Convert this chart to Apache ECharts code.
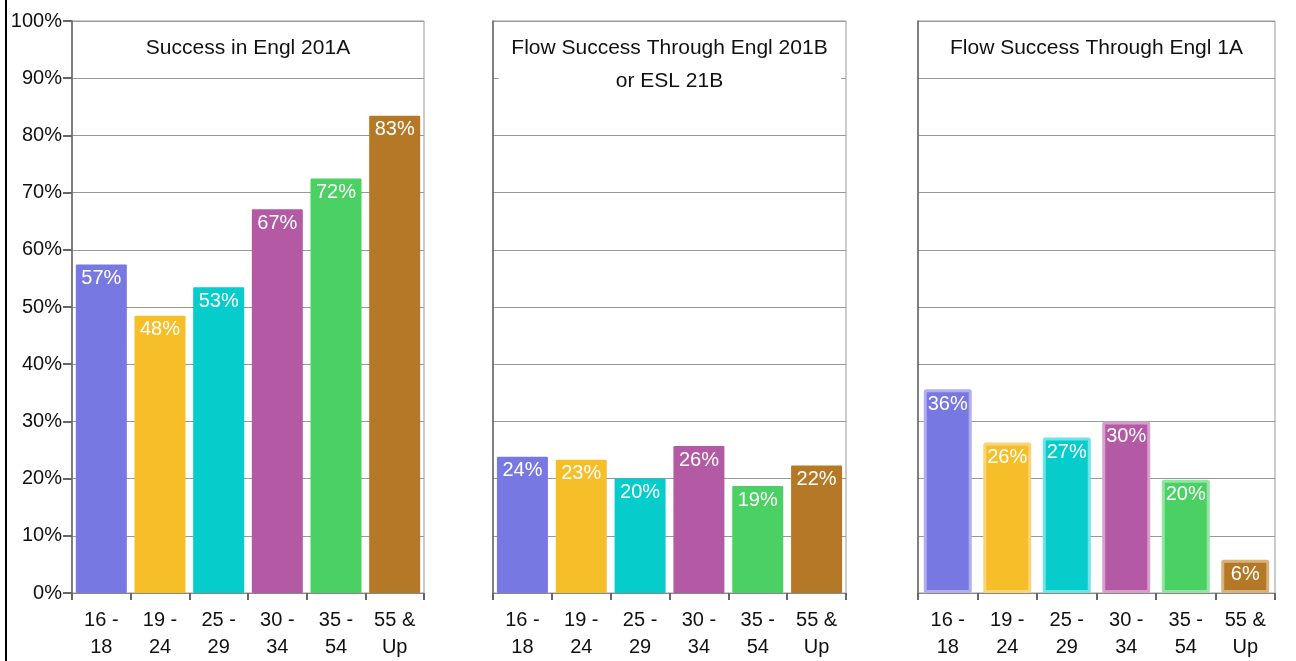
<!DOCTYPE html>
<html>
<head>
<meta charset="utf-8">
<script src="https://cdn.jsdelivr.net/npm/echarts@6/dist/echarts.min.js"></script>
<style>
html,body{margin:0;padding:0;background:#fff;}
#chart{width:1296px;height:661px;}
</style>
</head>
<body>
<div id="chart"></div>
<script>
const categories = ['16 -\n18', '19 -\n24', '25 -\n29', '30 -\n34', '35 -\n54', '55 &\nUp'];
const titles = ['Success in Engl 201A', 'Flow Success Through Engl 201B\nor ESL 21B', 'Flow Success Through Engl 1A'];
const successEngl201A = [57.45, 48.45, 53.45, 67.1, 72.45, 83.45];
const flowEngl201B = [23.8, 23.3, 20.0, 25.7, 18.7, 22.3];
const flowEngl1A = [35.6, 26.3, 27.2, 30.0, 19.8, 5.8];
const yTicks = [0, 10, 20, 30, 40, 50, 60, 70, 80, 90, 100];

const colors = ['#7878E2', '#F6BE28', '#06CCCC', '#B45AA5', '#4BD163', '#B57826'];
const lightColors = ['#AEAEF0', '#F9D57A', '#6FE4E4', '#D6A0CD', '#94E4A4', '#D8B27C'];

const FONT = 'Liberation Sans, Arial, sans-serif';
const panels = [
  {left: 72, width: 352, data: successEngl201A, barWidth: 51, border: false},
  {left: 493, width: 353, data: flowEngl201B, barWidth: 51, border: false},
  {left: 918, width: 357, data: flowEngl1A, barWidth: 48, border: true}
];
const gridTop = 21, gridBottom = 68;
const titleLineHeight = 33;

const titleGraphics = [];
panels.forEach((p, i) => {
  const rows = titles[i].split('\n').length;
  titleGraphics.push({
    type: 'rect', z: 5, silent: true,
    shape: {x: p.left + 6, y: gridTop + 2, width: p.width - 11, height: rows * titleLineHeight + 16},
    style: {fill: '#fff'}
  });
  titleGraphics.push({
    type: 'text', z: 6, silent: true,
    x: p.left + p.width / 2, y: 32,
    style: {
      text: titles[i], align: 'center', verticalAlign: 'top',
      fontFamily: FONT, fontSize: 21, lineHeight: titleLineHeight, fill: '#111'
    }
  });
});

const chart = echarts.init(document.getElementById('chart'));
const option = {
  backgroundColor: '#fff',
  animation: false,
  grid: panels.map(p => ({
    left: p.left, width: p.width, top: gridTop, bottom: gridBottom,
    show: true, borderColor: '#999', borderWidth: 1, containLabel: false
  })),
  xAxis: panels.map((p, i) => ({
    type: 'category', gridIndex: i, data: categories,
    axisLine: {show: true, lineStyle: {color: '#888', width: 1}},
    axisTick: {show: true, interval: 0, length: 7, lineStyle: {color: '#666', width: 2}},
    axisLabel: {interval: 0, margin: 14, fontFamily: FONT, fontSize: 20, color: '#111', lineHeight: 27, align: 'center'},
    splitLine: {show: false}
  })),
  yAxis: panels.map((p, i) => ({
    type: 'value', gridIndex: i, min: 0, max: 100, interval: 10,
    axisLine: {show: true, lineStyle: {color: '#666', width: 1.5}},
    axisTick: {show: i === 0, length: 9, lineStyle: {color: '#666', width: 2}},
    axisLabel: {show: i === 0, margin: 10, fontFamily: FONT, fontSize: 20, color: '#111',
      formatter: v => (yTicks.indexOf(v) >= 0 ? v + '%' : '')},
    splitLine: {show: true, lineStyle: {color: '#999', width: 1}}
  })),
  series: panels.map((p, i) => ({
    type: 'bar', xAxisIndex: i, yAxisIndex: i,
    barWidth: p.barWidth,
    data: p.data.map((v, j) => ({
      value: v,
      itemStyle: {
        color: colors[j],
        borderColor: p.border ? lightColors[j] : colors[j],
        borderWidth: p.border ? 3 : 0,
        borderRadius: 1
      }
    })),
    label: {
      show: true, position: 'insideTop', distance: p.border ? 5 : 4,
      color: '#fff', fontFamily: FONT, fontSize: 20,
      formatter: d => Math.round(d.value) + '%'
    }
  })),
  graphic: [{
    type: 'line', z: 6, shape: {x1: 6, y1: 0, x2: 6, y2: 661},
    style: {stroke: '#000', lineWidth: 2}
  }].concat(titleGraphics)
};
chart.setOption(option);
</script>
</body>
</html>
